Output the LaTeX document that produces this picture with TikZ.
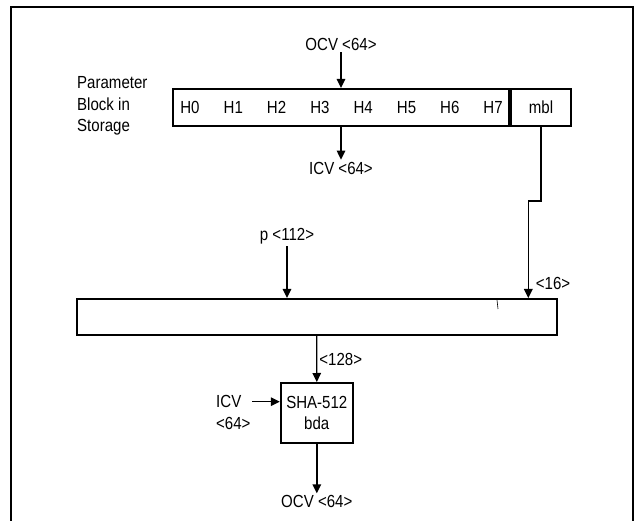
\documentclass[tikz,border=0pt]{standalone}
\usepackage{fontspec}
\setmainfont{Liberation Sans}[FakeStretch=0.86]
\usetikzlibrary{arrows.meta, positioning, calc}

\tikzset{
    blk/.style={draw, line width=2pt, inner sep=0pt, rectangle},
    lbl/.style={inner sep=2pt},
    arr/.style={line width=1.4pt, -{Triangle[length=9pt, width=8.5pt]}},
}

\begin{document}
\begin{tikzpicture}[x=1pt, y=-1pt, font=\fontsize{17.5}{21.5}\selectfont]
    \useasboundingbox (0,0) rectangle (635,521);
    % Outer frame (open at the bottom)
    \draw[line width=2pt] (11,521) -- (11,7) -- (633,7) -- (633,521);

    % Parameter block in storage
    \node[align=left, anchor=west, inner sep=0pt] (plabel) at (77,106) {Parameter\\Block in\\Storage};
    \node[blk, minimum width=336, minimum height=37] (hbox) at (341,107.5) {};
    \node[blk, minimum width=60, minimum height=37, anchor=west] (mblbox) at (hbox.east) {mbl};
    \foreach \i in {0,...,7} {
        \node[lbl] (h\i) at ({190+43.3*\i},107.5) {H\i};
    }

    % OCV in, ICV out
    \node[lbl] (ocvtop) at (341,44) {OCV <64>};
    \node[lbl] (icvtop) at (341,168) {ICV <64>};
    \draw[arr] (ocvtop.south) -- (hbox.north);
    \draw[arr] (hbox.south) -- (icvtop.north);

    % Message buffer
    \node[blk, minimum width=480, minimum height=36] (buf) at (316.7,317) {};
    \draw[line width=0.6pt] (497,300) -- (498,309);
    \node[lbl] (pin) at (287,236) {p <112>};
    \draw[arr] (pin.south) -- (pin.south |- buf.north);
    \node[lbl] (len) at (553,283) {<16>};
    \draw[arr] (mblbox.south) -- ++(0,74) -| ($(buf.north east)+(-29.4,0)$);

    % Compression
    \node[blk, minimum width=72, minimum height=60, align=center] (sha) at (316.8,413) {SHA-512\\bda};
    \draw[arr] (buf.south) -- (sha.north) node[midway, right, lbl] (blen) {<128>};
    \node[lbl, anchor=west] (icvin) at (214,401.7) {ICV};
    \node[lbl, anchor=west] (icvbits) at (214,423) {<64>};
    \draw[arr] ([xshift=9pt]icvin.east) -- (sha.west |- icvin.east);
    \node[lbl] (ocvout) at (316.8,501.7) {OCV <64>};
    \draw[arr] (sha.south) -- (ocvout.north);
\end{tikzpicture}
\end{document}
